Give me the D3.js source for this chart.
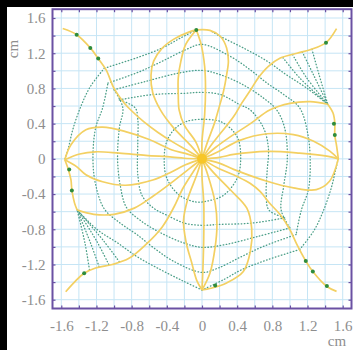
<!DOCTYPE html>
<html><head><meta charset="utf-8">
<script src="https://cdn.jsdelivr.net/npm/d3@7"></script>
<style>html,body{margin:0;padding:0;background:#fff;}svg{display:block;}</style>
</head><body>
<svg id="chart" width="353" height="350"></svg>
<script>
// ---------- tick data ----------
const tickValues = [-1.6,-1.2,-0.8,-0.4,0,0.4,0.8,1.2,1.6];
const tickLabels = ["-1.6","-1.2","-0.8","-0.4","0","0.4","0.8","1.2","1.6"];
const gridValues = [-1.6,-1.4,-1.2,-1.0,-0.8,-0.6,-0.4,-0.2,0,0.2,0.4,0.6,0.8,1.0,1.2,1.4,1.6];
const axisUnit = "cm";

// ---------- yellow curves (cm) ----------
const rayR2 = [[0,0],[0.199,0.017],[0.36,0.05],[0.74,0.085],[1.11,0.065],[1.42,0.03],[1.55,0]];
const rayR1 = [[0,0],[0.183,0.081],[0.43,0.21],[0.74,0.285],[1.04,0.275],[1.27,0.2],[1.45,0.09],[1.55,0]];
const rayR4 = [[0,0],[0.153,0.129],[0.32,0.25],[0.55,0.4],[0.77,0.555],[1.0,0.63],[1.23,0.65],[1.43,0.62]];
const armTR = [[0,0],[0.112,0.166],[0.21,0.29],[0.36,0.48],[0.45,0.63],[0.55,0.78],[0.64,0.92],[0.755,1.05],[0.89,1.145],[1.08,1.2],[1.23,1.24],[1.41,1.32],[1.53,1.48]];
const rayT4 = [[0,0],[0.062,0.19],[0.14,0.4],[0.19,0.57],[0.245,0.77],[0.28,0.955],[0.3,1.11],[0.28,1.26],[0.21,1.39],[0.09,1.46],[-0.065,1.465]];
const rayT3 = [[0,0],[0,0.2],[0.03,0.5],[0.04,0.8],[0.03,1.05],[-0.01,1.3],[-0.065,1.465]];
const rayT2 = [[0,0],[-0.068,0.188],[-0.2,0.38],[-0.26,0.555],[-0.27,0.73],[-0.27,0.92],[-0.24,1.11],[-0.185,1.3],[-0.065,1.465]];
const rayT1 = [[0,0],[-0.129,0.153],[-0.33,0.36],[-0.47,0.55],[-0.56,0.75],[-0.58,0.95],[-0.55,1.11],[-0.46,1.25],[-0.32,1.36],[-0.15,1.44],[-0.065,1.465]];
const armTL = [[0,0],[-0.173,0.1],[-0.33,0.19],[-0.5,0.3],[-0.66,0.42],[-0.81,0.555],[-0.885,0.635],[-1.0,0.8],[-1.09,1.01],[-1.18,1.14],[-1.27,1.26],[-1.425,1.41],[-1.584,1.48]];
const rayL1 = [[0,0],[-0.19,0.062],[-0.34,0.1],[-0.6,0.22],[-0.87,0.31],[-1.13,0.36],[-1.32,0.33],[-1.49,0.16],[-1.56,-0.01]];
const rayL2 = [[0,0],[-0.2,0.007],[-0.34,0.02],[-0.64,0.04],[-0.94,0.065],[-1.21,0.08],[-1.39,0.055],[-1.56,-0.01]];
const rayL3 = [[0,0],[-0.188,-0.068],[-0.37,-0.16],[-0.56,-0.24],[-0.87,-0.3],[-1.13,-0.26],[-1.32,-0.18],[-1.43,-0.085],[-1.56,-0.01]];
const rayL4 = [[0,0],[-0.158,-0.123],[-0.32,-0.25],[-0.55,-0.42],[-0.77,-0.56],[-1.0,-0.63],[-1.23,-0.63],[-1.42,-0.58]];
const armBL = [[0,0],[-0.112,-0.166],[-0.22,-0.34],[-0.32,-0.55],[-0.45,-0.77],[-0.64,-0.975],[-0.83,-1.13],[-1.02,-1.2],[-1.21,-1.24],[-1.34,-1.3],[-1.45,-1.4],[-1.55,-1.51]];
const rayB4 = [[0,0],[-0.062,-0.19],[-0.16,-0.45],[-0.21,-0.7],[-0.18,-0.95],[-0.12,-1.17],[-0.06,-1.38],[0,-1.49]];
const rayB3 = [[0,0],[0,-0.2],[0.02,-0.5],[0.02,-0.885],[0.01,-1.26],[0,-1.49]];
const rayB2 = [[0,0],[0.068,-0.188],[0.15,-0.5],[0.17,-0.75],[0.15,-1.0],[0.09,-1.3],[0,-1.49]];
const rayB1 = [[0,0],[0.129,-0.153],[0.33,-0.36],[0.51,-0.56],[0.565,-0.79],[0.55,-1.05],[0.47,-1.28],[0.28,-1.41],[0.1,-1.47],[0,-1.49]];
const armBR = [[0,0],[0.173,-0.1],[0.4,-0.2],[0.55,-0.28],[0.66,-0.37],[0.77,-0.505],[0.89,-0.635],[1.0,-0.805],[1.08,-0.975],[1.18,-1.16],[1.26,-1.28],[1.42,-1.45],[1.53,-1.505]];
const rayR3 = [[0,0],[0.194,-0.048],[0.36,-0.12],[0.74,-0.255],[1.04,-0.33],[1.3,-0.35],[1.45,-0.255],[1.55,0]];
const edgeLeft = [[-1.56,-0.01],[-1.52,-0.12],[-1.49,-0.24],[-1.48,-0.35],[-1.45,-0.5],[-1.42,-0.58]];
const edgeRight = [[1.55,0],[1.53,0.15],[1.51,0.27],[1.51,0.41],[1.49,0.52],[1.43,0.62]];

// ---------- green dotted curves (cm) ----------
const ring1 = [[0,0.45],[-0.16,0.43],[-0.3,0.35],[-0.4,0.2],[-0.43,0],[-0.4,-0.22],[-0.26,-0.41],[-0.07,-0.49],[0.1,-0.47],[0.25,-0.41],[0.4,-0.22],[0.44,0],[0.4,0.25],[0.22,0.42],[0,0.45]];
const ring2a = [[-0.94,0.67],[-0.565,0.73],[-0.185,0.745],[0,0.755],[0.21,0.73],[0.43,0.615],[0.55,0.555],[0.7,0.35],[0.755,0.12],[0.74,-0.15],[0.73,-0.4],[0.76,-0.58],[0.94,-0.67]];
const ring2b = [[0.94,-0.67],[0.565,-0.73],[0.185,-0.745],[0,-0.755],[-0.2,-0.73],[-0.4,-0.64],[-0.55,-0.56],[-0.68,-0.42],[-0.73,-0.18],[-0.73,0.2],[-0.73,0.45],[-0.76,0.58],[-0.94,0.67]];
const ring3a = [[-1.0,0.785],[-0.64,0.88],[-0.26,0.975],[0,1.005],[0.21,0.955],[0.47,0.84],[0.7,0.69],[0.85,0.555],[0.94,0.35],[0.97,0],[0.93,-0.3],[0.9,-0.58],[1.0,-0.785]];
const ring3b = [[1.0,-0.785],[0.64,-0.88],[0.26,-0.975],[0,-1.005],[-0.21,-0.955],[-0.47,-0.84],[-0.7,-0.7],[-0.86,-0.55],[-0.93,-0.3],[-0.96,0],[-0.94,0.35],[-0.9,0.58],[-1.0,0.785]];
const ring4a = [[-1.07,0.86],[-0.71,0.99],[-0.45,1.11],[-0.185,1.24],[0,1.3],[0.32,1.165],[0.55,1.01],[0.74,0.86],[0.93,0.73],[1.11,0.58],[1.2,0.3],[1.23,0],[1.21,-0.35],[1.13,-0.58],[1.07,-0.86]];
const ring4b = [[1.07,-0.86],[0.71,-0.99],[0.45,-1.11],[0.185,-1.24],[0,-1.29],[-0.32,-1.165],[-0.55,-1.01],[-0.74,-0.86],[-0.93,-0.73],[-1.11,-0.57],[-1.21,-0.29],[-1.24,0],[-1.21,0.35],[-1.13,0.58],[-1.07,0.86]];
const ring5TL = [[-0.065,1.465],[-0.25,1.37],[-0.45,1.26],[-0.75,1.145],[-1.11,1.03]];
const ring5L = [[-1.11,1.03],[-1.27,0.82],[-1.38,0.59],[-1.47,0.33],[-1.52,0.12],[-1.56,-0.01]];
const ring5BL = [[-1.42,-0.58],[-1.19,-0.805],[-0.96,-0.955],[-0.74,-1.11],[-0.47,-1.26],[-0.21,-1.39],[0,-1.49]];
const ring5BR = [[0,-1.49],[0.25,-1.37],[0.45,-1.26],[0.75,-1.145],[1.11,-1.03]];
const ring5R = [[1.11,-1.03],[1.27,-0.82],[1.38,-0.59],[1.47,-0.33],[1.52,-0.12],[1.55,0]];
const ring5TR = [[1.43,0.62],[1.19,0.805],[0.96,0.955],[0.74,1.11],[0.47,1.26],[0.21,1.39],[0.09,1.46]];
const fanTR1 = [[0.92,1.15],[1.11,0.92],[1.43,0.62]];
const fanTR2 = [[1.03,1.185],[1.19,0.92],[1.43,0.62]];
const fanTR3 = [[1.14,1.215],[1.27,0.95],[1.43,0.62]];
const fanTR4 = [[1.25,1.245],[1.33,0.96],[1.43,0.62]];
const fanBL1 = [[-0.94,-1.17],[-1.12,-0.93],[-1.42,-0.58]];
const fanBL2 = [[-1.06,-1.2],[-1.2,-0.93],[-1.42,-0.58]];
const fanBL3 = [[-1.17,-1.225],[-1.27,-0.95],[-1.42,-0.58]];
const fanBL4 = [[-1.28,-1.26],[-1.33,-0.96],[-1.42,-0.58]];

// ---------- green marker dots (cm) ----------
const markerX = [-1.425,-1.27,-1.18,-0.065,1.41,1.5,1.51,1.42,1.26,1.18,0.15,-1.34,-1.51,-1.48];
const markerY = [1.41,1.26,1.14,1.465,1.32,0.4,0.27,-1.445,-1.28,-1.16,-1.44,-1.3,-0.12,-0.36];
const centerPoint = [0,0];

const yellowCurves = [rayR2,rayR1,rayR4,armTR,rayT4,rayT3,rayT2,rayT1,armTL,rayL1,rayL2,rayL3,rayL4,armBL,rayB4,rayB3,rayB2,rayB1,armBR,rayR3,edgeLeft,edgeRight];
const dottedCurves = [ring1,ring2a,ring2b,ring3a,ring3b,ring4a,ring4b,ring5TL,ring5L,ring5BL,ring5BR,ring5R,ring5TR,fanTR1,fanTR2,fanTR3,fanTR4,fanBL1,fanBL2,fanBL3,fanBL4];

// ---------- drawing ----------
const svg = d3.select("#chart");
const W = 353, H = 350;
const x = d3.scaleLinear().domain([-1.7,1.7]).range([52.5,351.5]);
const y = d3.scaleLinear().domain([-1.7,1.7]).range([308.5,9.2]);
const frameColor = "#6b51a3";
const labelColor = "#8e8e8e";
const labelFont = "'Liberation Serif','Times New Roman',serif";

// black strips
svg.append("rect").attr("x",0).attr("y",0).attr("width",W).attr("height",7).attr("fill","#000");
svg.append("rect").attr("x",0).attr("y",0).attr("width",7).attr("height",H).attr("fill","#000");

// plot background
svg.append("rect").attr("x",x(-1.7)).attr("y",y(1.7)).attr("width",x(1.7)-x(-1.7)).attr("height",y(-1.7)-y(1.7)).attr("fill","#fff");

svg.append("defs").append("clipPath").attr("id","clip").append("rect")
  .attr("x",x(-1.7)).attr("y",y(1.7)).attr("width",x(1.7)-x(-1.7)).attr("height",y(-1.7)-y(1.7));

// grid
const grid = svg.append("g").attr("clip-path","url(#clip)");
grid.selectAll("line.v").data(gridValues).join("line").attr("class","v")
  .attr("x1",d=>x(d)).attr("x2",d=>x(d)).attr("y1",y(1.7)).attr("y2",y(-1.7))
  .attr("stroke","#c6e5f5").attr("stroke-width",1);
grid.selectAll("line.h").data(gridValues).join("line").attr("class","h")
  .attr("y1",d=>y(d)).attr("y2",d=>y(d)).attr("x1",x(-1.7)).attr("x2",x(1.7))
  .attr("stroke","#c6e5f5").attr("stroke-width",1);

const plot = svg.append("g").attr("clip-path","url(#clip)");
const line = d3.line().x(d=>x(d[0])).y(d=>y(d[1])).curve(d3.curveCatmullRom.alpha(0.5));

// dotted green curves
plot.selectAll("path.dot").data(dottedCurves).join("path").attr("class","dot")
  .attr("d",line).attr("fill","none").attr("stroke","#4c9f88").attr("stroke-width",1.3)
  .attr("stroke-dasharray","0.6,2.5").attr("stroke-linecap","round");

// yellow curves
plot.selectAll("path.yel").data(yellowCurves).join("path").attr("class","yel")
  .attr("d",line).attr("fill","none").attr("stroke","#f3d062").attr("stroke-width",1.7)
  .attr("stroke-linejoin","round");

// centre glow
plot.append("circle").attr("cx",x(centerPoint[0])).attr("cy",y(centerPoint[1])).attr("r",5).attr("fill","#f7c41f").attr("opacity",0.85);

// green dots
plot.selectAll("circle.mk").data(markerX.map((v,i)=>[v,markerY[i]])).join("circle").attr("class","mk")
  .attr("cx",d=>x(d[0])).attr("cy",d=>y(d[1])).attr("r",2).attr("fill","#2f8c3c");

// inner ticks on all four sides
const tickAll = gridValues;
const mkAxis = (ax, tr) => svg.append("g").attr("transform",tr).call(ax.tickValues(tickAll).tickSize(-3).tickFormat(""))
  .call(g=>g.select(".domain").remove()).call(g=>g.selectAll("line").attr("stroke",frameColor).attr("stroke-width",1.2));
mkAxis(d3.axisBottom(x), `translate(0,${y(-1.7)})`);
mkAxis(d3.axisTop(x), `translate(0,${y(1.7)})`);
mkAxis(d3.axisLeft(y), `translate(${x(-1.7)},0)`);
mkAxis(d3.axisRight(y), `translate(${x(1.7)},0)`);

// frame
svg.append("rect").attr("x",x(-1.7)).attr("y",y(1.7)).attr("width",x(1.7)-x(-1.7)).attr("height",y(-1.7)-y(1.7))
  .attr("fill","none").attr("stroke",frameColor).attr("stroke-width",2);

// tick labels
const xa = svg.append("g").attr("transform",`translate(0,${y(-1.7)})`)
  .call(d3.axisBottom(x).tickValues(tickValues).tickSize(0).tickPadding(12).tickFormat((d,i)=>tickLabels[i]));
xa.select(".domain").remove();
xa.selectAll("text").attr("font-family",labelFont).attr("font-size",15).attr("fill",labelColor);
const ya = svg.append("g").attr("transform",`translate(${x(-1.7)},0)`)
  .call(d3.axisLeft(y).tickValues(tickValues).tickSize(0).tickPadding(7).tickFormat((d,i)=>tickLabels[i]));
ya.select(".domain").remove();
ya.selectAll("text").attr("font-family",labelFont).attr("font-size",15).attr("fill",labelColor);

// unit labels
svg.append("text").attr("x",337).attr("y",346).attr("text-anchor","middle")
  .attr("font-family",labelFont).attr("font-size",15).attr("fill",labelColor).text(axisUnit);
svg.append("text").attr("transform","translate(18,49) rotate(-90)").attr("text-anchor","middle")
  .attr("font-family",labelFont).attr("font-size",15).attr("fill",labelColor).text(axisUnit);
</script>
</body></html>
